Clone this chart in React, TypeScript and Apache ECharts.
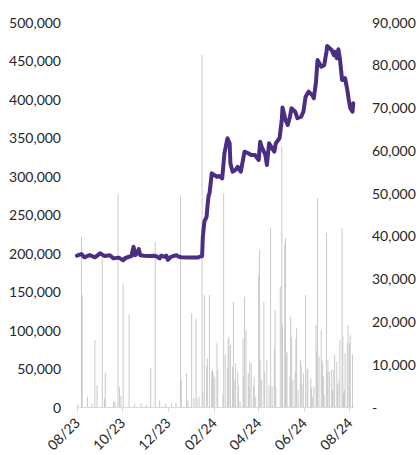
import React, { useEffect, useRef } from "react";
import * as echarts from "echarts";

// Share price (left axis)
const priceData: [string, number][] = [
  ["2023-08-01", 196500], ["2023-08-07", 198700], ["2023-08-11", 194400], ["2023-08-18", 197400],
  ["2023-08-25", 194400], ["2023-09-01", 199600], ["2023-09-07", 196000], ["2023-09-14", 197000],
  ["2023-09-19", 193000], ["2023-09-26", 194000], ["2023-10-02", 190500], ["2023-10-05", 193500],
  ["2023-10-09", 194800], ["2023-10-13", 196000], ["2023-10-16", 208000], ["2023-10-18", 197000],
  ["2023-10-20", 199000], ["2023-10-23", 205000], ["2023-10-25", 197000], ["2023-10-30", 196500],
  ["2023-11-06", 196000], ["2023-11-13", 196500], ["2023-11-16", 195500], ["2023-11-20", 193000],
  ["2023-11-22", 196500], ["2023-11-27", 195000], ["2023-11-29", 196500], ["2023-12-01", 191000],
  ["2023-12-05", 194800], ["2023-12-08", 196000], ["2023-12-13", 197000], ["2023-12-15", 195500],
  ["2023-12-19", 194500], ["2023-12-29", 194300], ["2024-01-11", 194200], ["2024-01-12", 195000],
  ["2024-01-16", 196000], ["2024-01-17", 221000], ["2024-01-19", 240600], ["2024-01-22", 247000],
  ["2024-01-24", 268800], ["2024-01-25", 275300], ["2024-01-26", 277500], ["2024-01-29", 303500],
  ["2024-02-05", 299000], ["2024-02-08", 300000], ["2024-02-12", 297000], ["2024-02-15", 329500],
  ["2024-02-19", 349000], ["2024-02-22", 342500], ["2024-02-23", 316500], ["2024-02-26", 305600],
  ["2024-03-01", 308000], ["2024-03-04", 312000], ["2024-03-08", 305600], ["2024-03-13", 331600],
  ["2024-03-18", 329500], ["2024-03-22", 327300], ["2024-03-27", 327300], ["2024-04-01", 320800],
  ["2024-04-03", 344600], ["2024-04-05", 338000], ["2024-04-10", 327300], ["2024-04-12", 314300],
  ["2024-04-15", 342500], ["2024-04-19", 336000], ["2024-04-22", 331600], ["2024-04-24", 342500],
  ["2024-04-29", 349000], ["2024-05-02", 372700], ["2024-05-03", 389000], ["2024-05-07", 372700],
  ["2024-05-10", 366200], ["2024-05-13", 377000], ["2024-05-15", 388000], ["2024-05-20", 383500],
  ["2024-05-23", 375000], ["2024-05-28", 377000], ["2024-05-31", 383500], ["2024-06-03", 403000],
  ["2024-06-07", 409500], ["2024-06-12", 405000], ["2024-06-14", 401000], ["2024-06-17", 422500],
  ["2024-06-19", 450600], ["2024-06-24", 442000], ["2024-06-28", 444000], ["2024-07-01", 461400],
  ["2024-07-02", 468800], ["2024-07-08", 463600], ["2024-07-11", 457000], ["2024-07-12", 461400],
  ["2024-07-15", 452900], ["2024-07-17", 464500], ["2024-07-19", 453000], ["2024-07-22", 424700],
  ["2024-07-24", 424700], ["2024-07-26", 427000], ["2024-07-29", 411700], ["2024-07-31", 398700],
  ["2024-08-02", 388000], ["2024-08-05", 383500], ["2024-08-06", 394400],
];

// Trading volume (right axis)
const volumeData: [string, number][] = [
  ["2023-08-02", 600], ["2023-08-07", 39800], ["2023-08-08", 26200], ["2023-08-15", 2400],
  ["2023-08-21", 800], ["2023-08-25", 15700], ["2023-08-28", 5100], ["2023-09-04", 34800],
  ["2023-09-07", 2000], ["2023-09-08", 8000], ["2023-09-19", 1200], ["2023-09-21", 1200],
  ["2023-09-25", 49800], ["2023-09-27", 4600], ["2023-09-29", 2500], ["2023-10-02", 28900],
  ["2023-10-10", 21700], ["2023-10-17", 700], ["2023-10-26", 900], ["2023-11-02", 600],
  ["2023-11-08", 9100], ["2023-11-14", 38600], ["2023-11-20", 1600], ["2023-11-28", 700],
  ["2023-12-06", 800], ["2023-12-12", 1000], ["2023-12-18", 49200], ["2023-12-19", 6300],
  ["2023-12-26", 7900], ["2023-12-28", 1500], ["2024-01-02", 21900], ["2024-01-05", 2100],
  ["2024-01-08", 20700], ["2024-01-09", 2000], ["2024-01-12", 2400], ["2024-01-16", 82300],
  ["2024-01-17", 3300], ["2024-01-19", 26200], ["2024-01-22", 9400], ["2024-01-23", 11400],
  ["2024-01-26", 26200], ["2024-01-29", 8300], ["2024-01-30", 8700], ["2024-01-31", 7900],
  ["2024-02-02", 7100], ["2024-02-05", 14900], ["2024-02-06", 8700], ["2024-02-13", 2800],
  ["2024-02-14", 50000], ["2024-02-16", 12200], ["2024-02-19", 9000], ["2024-02-20", 15700],
  ["2024-02-21", 16400], ["2024-02-23", 14500], ["2024-02-26", 9400], ["2024-02-27", 24600],
  ["2024-02-28", 6300], ["2024-03-01", 10200], ["2024-03-04", 8300], ["2024-03-05", 4800],
  ["2024-03-07", 1300], ["2024-03-11", 16000], ["2024-03-12", 7100], ["2024-03-13", 25800],
  ["2024-03-15", 18000], ["2024-03-18", 7900], ["2024-03-19", 4800], ["2024-03-20", 10600],
  ["2024-03-22", 10200], ["2024-03-25", 4800], ["2024-03-26", 7100], ["2024-03-28", 2400],
  ["2024-04-01", 30900], ["2024-04-02", 36700], ["2024-04-03", 11000], ["2024-04-05", 6300],
  ["2024-04-08", 24600], ["2024-04-09", 8300], ["2024-04-12", 11000], ["2024-04-15", 5100],
  ["2024-04-17", 41800], ["2024-04-19", 4800], ["2024-04-22", 13700], ["2024-04-23", 22700],
  ["2024-04-24", 4800], ["2024-04-30", 28100], ["2024-05-02", 61000], ["2024-05-03", 19200],
  ["2024-05-06", 38300], ["2024-05-07", 39400], ["2024-05-08", 11800], ["2024-05-09", 12900],
  ["2024-05-13", 7100], ["2024-05-14", 21100], ["2024-05-15", 16400], ["2024-05-17", 6300],
  ["2024-05-20", 8300], ["2024-05-21", 16000], ["2024-05-22", 18400], ["2024-05-24", 4000],
  ["2024-05-27", 11000], ["2024-05-28", 9800], ["2024-05-29", 5500], ["2024-05-31", 7900],
  ["2024-06-03", 26200], ["2024-06-05", 8700], ["2024-06-06", 9000], ["2024-06-10", 6700],
  ["2024-06-11", 4400], ["2024-06-12", 2400], ["2024-06-14", 4800], ["2024-06-17", 19200],
  ["2024-06-18", 12900], ["2024-06-19", 48800], ["2024-06-21", 11800], ["2024-06-24", 18000],
  ["2024-06-25", 11000], ["2024-06-26", 9800], ["2024-06-27", 7100], ["2024-06-28", 2800],
  ["2024-07-01", 40600], ["2024-07-02", 7900], ["2024-07-03", 11000], ["2024-07-05", 8300],
  ["2024-07-08", 8700], ["2024-07-09", 4000], ["2024-07-11", 8700], ["2024-07-12", 12200],
  ["2024-07-15", 10600], ["2024-07-16", 5500], ["2024-07-18", 6300], ["2024-07-19", 15700],
  ["2024-07-22", 41800], ["2024-07-23", 16400], ["2024-07-24", 3200], ["2024-07-25", 4000],
  ["2024-07-26", 12500], ["2024-07-29", 14900], ["2024-07-30", 19200], ["2024-08-01", 14900],
  ["2024-08-02", 16800], ["2024-08-05", 12200],
];

const tickDates = ["2023-08-01", "2023-10-01", "2023-12-01", "2024-02-01", "2024-04-01", "2024-06-01", "2024-08-01"];
const axisStart = "2023-08-01";
const axisEnd = "2024-08-07";

function ts(s: string): number {
  const [y, m, d] = s.split("-").map(Number);
  return new Date(y, m - 1, d).getTime();
}

const FONT = "Lato";
const TEXT = "#262626";

export default function App() {
  const ref = useRef<HTMLDivElement>(null);
  useEffect(() => {
    document.body.style.margin = "0";
    if (!ref.current) return;
    const chart = echarts.init(ref.current, undefined, { renderer: "svg" });
    const ticks = tickDates.map(ts);
    chart.setOption({
      animation: false,
      grid: { left: 77, right: 65, top: 22, bottom: 48 },
      xAxis: {
        type: "value",
        min: ts(axisStart),
        max: ts(axisEnd),
        splitLine: { show: false },
        axisLine: { show: true, onZero: false, lineStyle: { color: "#d9d9d9", width: 1 } },
        axisTick: { show: true, customValues: ticks, length: 5, lineStyle: { color: "#d9d9d9" } },
        axisLabel: {
          customValues: ticks,
          rotate: 45,
          margin: 13,
          fontFamily: FONT,
          fontSize: 14,
          color: TEXT,
          formatter: (v: number) => {
            const d = new Date(v);
            const mm = String(d.getMonth() + 1).padStart(2, "0");
            const yy = String(d.getFullYear() % 100).padStart(2, "0");
            return mm + "/" + yy;
          },
        },
      },
      yAxis: [
        {
          type: "value",
          position: "left",
          min: 0,
          max: 500000,
          interval: 50000,
          splitLine: { show: false },
          axisLine: { show: false },
          axisTick: { show: false },
          axisLabel: {
            margin: 16,
            fontFamily: FONT,
            fontSize: 14,
            color: TEXT,
            formatter: (v: number) => v.toLocaleString("en-US"),
          },
        },
        {
          type: "value",
          position: "right",
          min: 0,
          max: 90000,
          interval: 10000,
          splitLine: { show: false },
          axisLine: { show: false },
          axisTick: { show: false },
          axisLabel: {
            margin: 18,
            fontFamily: FONT,
            fontSize: 14,
            color: TEXT,
            formatter: (v: number) => (v === 0 ? "-" : v.toLocaleString("en-US")),
          },
        },
      ],
      series: [
        {
          type: "bar",
          yAxisIndex: 1,
          barWidth: 1,
          itemStyle: { color: "#c9c9c9" },
          data: volumeData.map(([d, v]) => [ts(d), v]),
          z: 1,
        },
        {
          type: "line",
          yAxisIndex: 0,
          showSymbol: false,
          lineStyle: { color: "#4b2d84", width: 4, join: "round", cap: "round" },
          itemStyle: { color: "#4b2d84" },
          data: priceData.map(([d, v]) => [ts(d), v]),
          z: 3,
        },
      ],
    });
    return () => chart.dispose();
  }, []);
  return <div ref={ref} style={{ width: 419, height: 455 }} />;
}
